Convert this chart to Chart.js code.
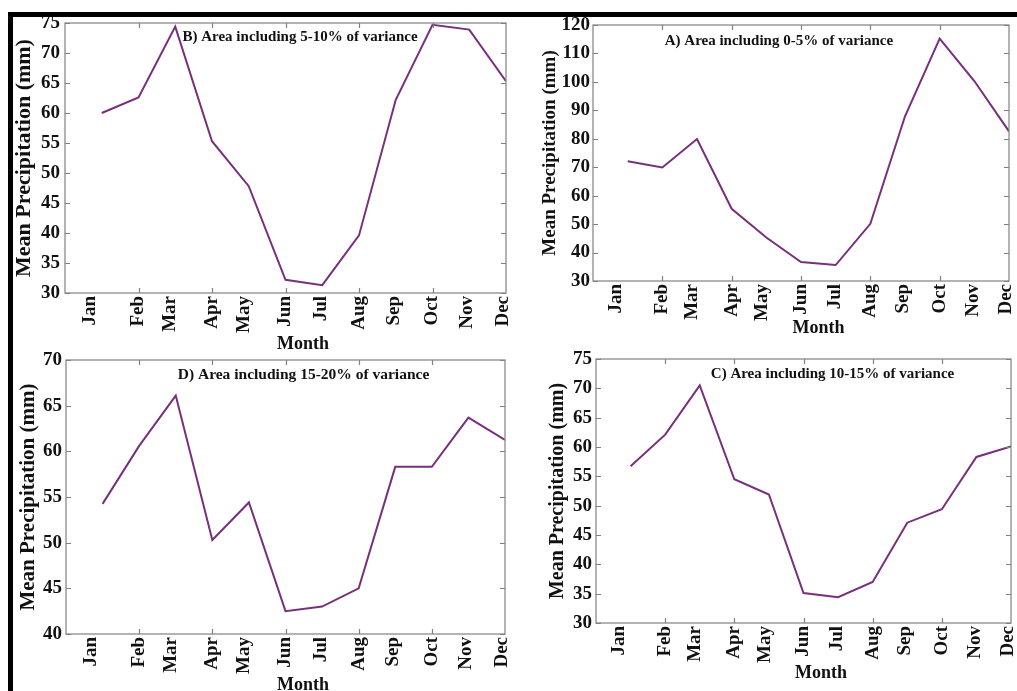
<!DOCTYPE html>
<html>
<head>
<meta charset="utf-8">
<script src="https://cdn.jsdelivr.net/npm/chart.js@4.4.1/dist/chart.umd.min.js"></script>
<style>
  html, body { margin: 0; padding: 0; background: #fff; width: 1017px; height: 691px; overflow: hidden; }
  .panel { position: absolute; }
  .bar { position: absolute; background: #000; z-index: 10; }
</style>
</head>
<body>
<div class="panel" style="left:8px;top:8px;width:512px;height:352px"><canvas id="cB"></canvas></div>
<div class="panel" style="left:524px;top:8px;width:493px;height:340px"><canvas id="cA"></canvas></div>
<div class="panel" style="left:8px;top:345px;width:512px;height:360px"><canvas id="cD"></canvas></div>
<div class="panel" style="left:524px;top:345px;width:493px;height:346px"><canvas id="cC"></canvas></div>
<div class="bar" style="left:8px;top:12px;width:1009px;height:5px"></div>
<div class="bar" style="left:8px;top:12px;width:5px;height:679px"></div>
<script>
// ---------- data ----------
const months = ['Jan','Feb','Mar','Apr','May','Jun','Jul','Aug','Sep','Oct','Nov','Dec'];
const monthNumbers = [1,2,3,4,5,6,7,8,9,10,11,12];
// month-label anchor values on the month axis (as printed in the original figure)
const monthLabelAt = [0.68, 2, 2.86, 4, 4.88, 6, 6.97, 8, 8.95, 10, 10.95, 11.93];
const xTickMarks = [2, 4, 6, 8, 10];

const precipA = [72.1, 69.9, 79.9, 55.4, 45.3, 36.7, 35.6, 50.1, 87.9, 115.2, 100.3, 82.6]; // 0-5%
const precipB = [60.0, 62.6, 74.4, 55.3, 47.8, 32.2, 31.3, 39.6, 62.2, 74.7, 73.9, 65.3];    // 5-10%
const precipC = [56.7, 62.1, 70.5, 54.5, 51.9, 35.1, 34.4, 37.0, 47.1, 49.4, 58.3, 60.1];    // 10-15%
const precipD = [54.25, 60.6, 66.1, 50.3, 54.4, 42.5, 43.0, 45.0, 58.3, 58.3, 63.7, 61.25];  // 15-20%

const titleA = 'A) Area including 0-5% of variance';
const titleB = 'B) Area including 5-10% of variance';
const titleC = 'C) Area including 10-15% of variance';
const titleD = 'D) Area including 15-20% of variance';
const yTitle = 'Mean Precipitation (mm)';
const xTitle = 'Month';

// ---------- drawing helpers ----------
const SERIF = '"Liberation Serif", "Times New Roman", serif';
const FRAME = '#808080';
const LINE = '#77307b';

const framePlugin = {
  id: 'frameTicks',
  afterDatasetsDraw(chart) {
    const {ctx, chartArea: a, scales} = chart;
    ctx.save();
    ctx.strokeStyle = FRAME;
    ctx.lineWidth = 1.2;
    ctx.strokeRect(a.left, a.top, a.right - a.left, a.bottom - a.top);
    const L = 5;
    ctx.beginPath();
    scales.y.ticks.forEach(t => {
      const py = Math.round(scales.y.getPixelForValue(t.value)) + 0.5;
      ctx.moveTo(a.left, py); ctx.lineTo(a.left + L, py);
      ctx.moveTo(a.right, py); ctx.lineTo(a.right - L, py);
    });
    xTickMarks.forEach(v => {
      const px = Math.round(scales.x.getPixelForValue(v)) + 0.5;
      ctx.moveTo(px, a.top); ctx.lineTo(px, a.top + L);
      ctx.moveTo(px, a.bottom); ctx.lineTo(px, a.bottom - L);
    });
    ctx.stroke();
    ctx.restore();
  },
  afterDraw(chart) {
    const o = chart.options.plugins.panelText;
    const {ctx, chartArea: a} = chart;
    ctx.save();
    ctx.fillStyle = '#111';
    ctx.textAlign = 'center';
    ctx.textBaseline = 'middle';
    ctx.font = 'bold ' + o.titleSize + 'px ' + SERIF;
    ctx.fillText(o.title, a.left + o.titleFx * (a.right - a.left), a.top + o.titleDy);
    ctx.font = 'bold 18px ' + SERIF;
    ctx.fillText(xTitle, (a.left + a.right) / 2 + 17.5, chart.height - o.monthDy);
    ctx.restore();
  }
};

function makePanel(id, values, cfg) {
  const data = monthNumbers.map((m, i) => ({x: m, y: values[i]}));
  return new Chart(document.getElementById(id), {
    type: 'line',
    data: { datasets: [{ data, borderColor: LINE, borderWidth: 2, pointRadius: 0, tension: 0, fill: false }] },
    options: {
      responsive: true,
      maintainAspectRatio: false,
      animation: false,
      events: [],
      layout: { padding: { top: cfg.padTop, right: cfg.padRight, left: 0, bottom: 0 } },
      plugins: {
        legend: { display: false },
        tooltip: { enabled: false },
        panelText: { title: cfg.title, titleSize: cfg.titleSize, titleFx: cfg.titleFx, titleDy: cfg.titleDy, monthDy: cfg.monthDy }
      },
      scales: {
        x: {
          type: 'linear', min: 0, max: 12,
          grid: { display: false, drawTicks: false },
          border: { display: false },
          afterBuildTicks(s) { s.ticks = monthLabelAt.map(v => ({value: v})); },
          afterFit(s) { s.height = cfg.xHeight; s.paddingLeft = 0; s.paddingRight = 0; },
          ticks: {
            autoSkip: false, minRotation: 90, maxRotation: 90, padding: 3,
            color: '#111', font: { family: SERIF, size: 19, weight: 'bold' },
            callback: (v, i) => months[i]
          }
        },
        y: {
          min: cfg.min, max: cfg.max,
          grid: { display: false, drawTicks: false },
          border: { display: false },
          afterFit(s) { s.width = cfg.yWidth; s.paddingTop = 0; s.paddingBottom = 0; },
          ticks: { stepSize: cfg.step, padding: cfg.tickPad, color: '#111', font: { family: SERIF, size: 19, weight: 'bold' } },
          title: {
            display: true, text: yTitle, color: '#111',
            font: { family: SERIF, size: cfg.yTitleSize, weight: 'bold', lineHeight: 1 },
            padding: { top: cfg.yTitleOff - cfg.yTitleSize / 2, bottom: 0 }
          }
        }
      }
    },
    plugins: [framePlugin]
  });
}

makePanel('cB', precipB, { min: 30, max: 75, step: 5, yWidth: 57, xHeight: 67, padTop: 15, padRight: 14, tickPad: 5,
  yTitleSize: 22, yTitleOff: 16, title: titleB, titleSize: 15, titleFx: 0.533, titleDy: 14, monthDy: 15.5 });
makePanel('cA', precipA, { min: 30, max: 120, step: 10, yWidth: 69, xHeight: 67, padTop: 17, padRight: 8, tickPad: 3,
  yTitleSize: 19, yTitleOff: 26, title: titleA, titleSize: 15, titleFx: 0.447, titleDy: 16, monthDy: 19.5 });
makePanel('cD', precipD, { min: 40, max: 70, step: 5, yWidth: 58, xHeight: 71, padTop: 15, padRight: 15, tickPad: 4,
  yTitleSize: 21, yTitleOff: 21, title: titleD, titleSize: 15.5, titleFx: 0.541, titleDy: 15, monthDy: 20 });
makePanel('cC', precipC, { min: 30, max: 75, step: 5, yWidth: 72, xHeight: 68, padTop: 14, padRight: 6, tickPad: 4,
  yTitleSize: 20, yTitleOff: 33.5, title: titleC, titleSize: 15, titleFx: 0.57, titleDy: 15, monthDy: 18 });
</script>
</body>
</html>
